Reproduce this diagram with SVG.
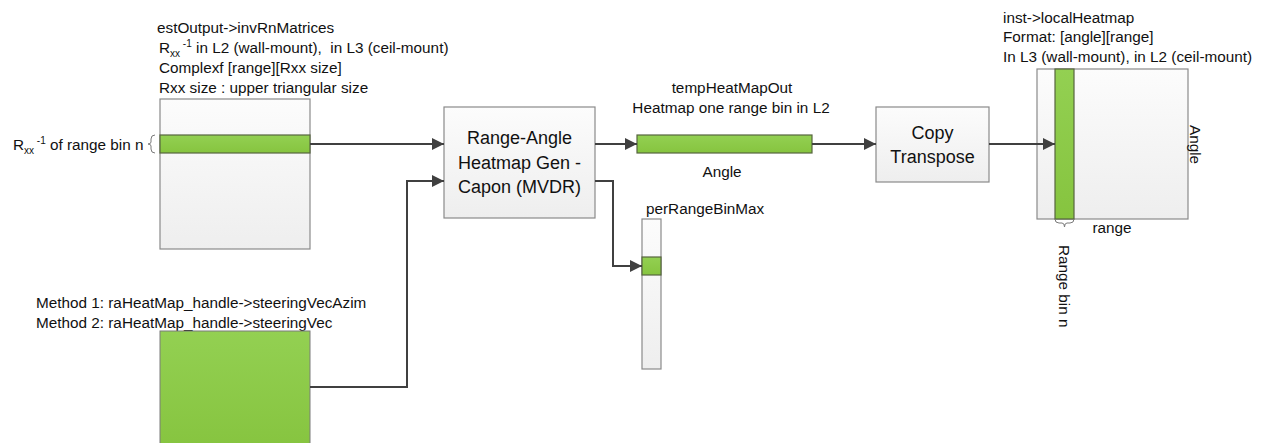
<svg xmlns="http://www.w3.org/2000/svg" width="1265" height="443" viewBox="0 0 1265 443">
<defs>
<linearGradient id="gBox" x1="0" y1="0" x2="0" y2="1">
<stop offset="0" stop-color="#fcfcfc"/><stop offset="1" stop-color="#eeeeee"/>
</linearGradient>
<linearGradient id="gGreen" x1="0" y1="0" x2="0" y2="1">
<stop offset="0" stop-color="#93d052"/><stop offset="1" stop-color="#86c43f"/>
</linearGradient>
<marker id="arr" viewBox="0 0 12 12" refX="12" refY="6" markerWidth="12" markerHeight="12" markerUnits="userSpaceOnUse" orient="auto">
<path d="M0,0 L12,6 L0,12 Z" fill="#404040"/>
</marker>
<style>
.t{font-family:"Liberation Sans",Arial,sans-serif;font-size:15.3px;fill:#111}
.tb{font-family:"Liberation Sans",Arial,sans-serif;font-size:18px;fill:#111}
.sm{font-size:10px}
.box{fill:url(#gBox);stroke:#8a8a8a;stroke-width:1.2}
.grn{fill:url(#gGreen);stroke:#56643f;stroke-width:1.2}
.grn2{fill:url(#gGreen);stroke:#7a7a7a;stroke-width:1}
.con{fill:none;stroke:#404040;stroke-width:2}
.brace{fill:none;stroke:#7a7a7a;stroke-width:1}
</style>
</defs>
<rect width="1265" height="443" fill="#ffffff"/>

<g id="invRnMatrices">
<text class="t" x="157" y="33">estOutput-&gt;invRnMatrices</text>
<text class="t" x="159" y="53">R<tspan class="sm" dy="4">xx</tspan><tspan class="sm" dy="-10"> -1</tspan><tspan dy="6"> in L2 (wall-mount), &#160;in L3 (ceil-mount)</tspan></text>
<text class="t" x="159" y="73">Complexf [range][Rxx size]</text>
<text class="t" x="159" y="93">Rxx size : upper triangular size</text>
<rect class="box" x="160" y="99" width="150" height="150"/>
<rect class="grn" x="160" y="135" width="150" height="18"/>
<path class="brace" d="M155,135 Q151,135 151,139 L151,142 Q151,144 148,144 Q151,144 151,146 L151,149 Q151,153 155,153"/>
<text class="t" x="13" y="150">R<tspan class="sm" dy="4">xx</tspan><tspan class="sm" dy="-10"> -1</tspan><tspan dy="6"> of range bin n</tspan></text>
</g>

<g id="steeringVec">
<text class="t" x="36" y="308">Method 1: raHeatMap_handle-&gt;steeringVecAzim</text>
<text class="t" x="36" y="328">Method 2: raHeatMap_handle-&gt;steeringVec</text>
<rect class="grn2" x="160" y="331" width="150" height="120"/>
</g>

<g id="caponBlock">
<rect class="box" x="444" y="107" width="151" height="111"/>
<text class="tb" x="519.5" y="144" text-anchor="middle">Range-Angle</text>
<text class="tb" x="519.5" y="169" text-anchor="middle">Heatmap Gen -</text>
<text class="tb" x="519.5" y="193" text-anchor="middle">Capon (MVDR)</text>
</g>

<g id="tempHeatMapOut">
<text class="t" x="732" y="93" text-anchor="middle">tempHeatMapOut</text>
<text class="t" x="731" y="113" text-anchor="middle">Heatmap one range bin in L2</text>
<rect class="grn" x="637" y="135" width="175" height="18"/>
<text class="t" x="722" y="177" text-anchor="middle">Angle</text>
</g>

<g id="perRangeBinMax">
<text class="t" x="646" y="214">perRangeBinMax</text>
<rect class="box" x="642" y="219" width="19" height="150"/>
<rect class="grn" x="642" y="257" width="19" height="18"/>
</g>

<g id="copyTranspose">
<rect class="box" x="876" y="107" width="113" height="75"/>
<text class="tb" x="932.5" y="139" text-anchor="middle">Copy</text>
<text class="tb" x="932.5" y="163" text-anchor="middle">Transpose</text>
</g>

<g id="localHeatmap">
<text class="t" x="1003" y="23">inst-&gt;localHeatmap</text>
<text class="t" x="1003" y="42">Format: [angle][range]</text>
<text class="t" x="1003" y="62">In L3 (wall-mount), in L2 (ceil-mount)</text>
<rect class="box" x="1037" y="69" width="151" height="150"/>
<rect class="grn" x="1055" y="69" width="19" height="150"/>
<text class="t" transform="translate(1190,125) rotate(90)">Angle</text>
<text class="t" x="1112" y="233" text-anchor="middle">range</text>
<path class="brace" d="M1055,219 Q1055,223 1059,223 L1062,223 Q1064.5,223 1064.5,227 Q1064.5,223 1067,223 L1070,223 Q1074,223 1074,219"/>
<text class="t" transform="translate(1059,245) rotate(90)">Range bin n</text>
</g>

<g id="connectors">
<path class="con" d="M310,144 H444" marker-end="url(#arr)"/>
<path class="con" d="M310,387 H407 V181 H444" marker-end="url(#arr)"/>
<path class="con" d="M595,144 H637" marker-end="url(#arr)"/>
<path class="con" d="M595,181 H613 V266 H642" marker-end="url(#arr)"/>
<path class="con" d="M812,144 H876" marker-end="url(#arr)"/>
<path class="con" d="M989,144 H1055" marker-end="url(#arr)"/>
</g>
</svg>
